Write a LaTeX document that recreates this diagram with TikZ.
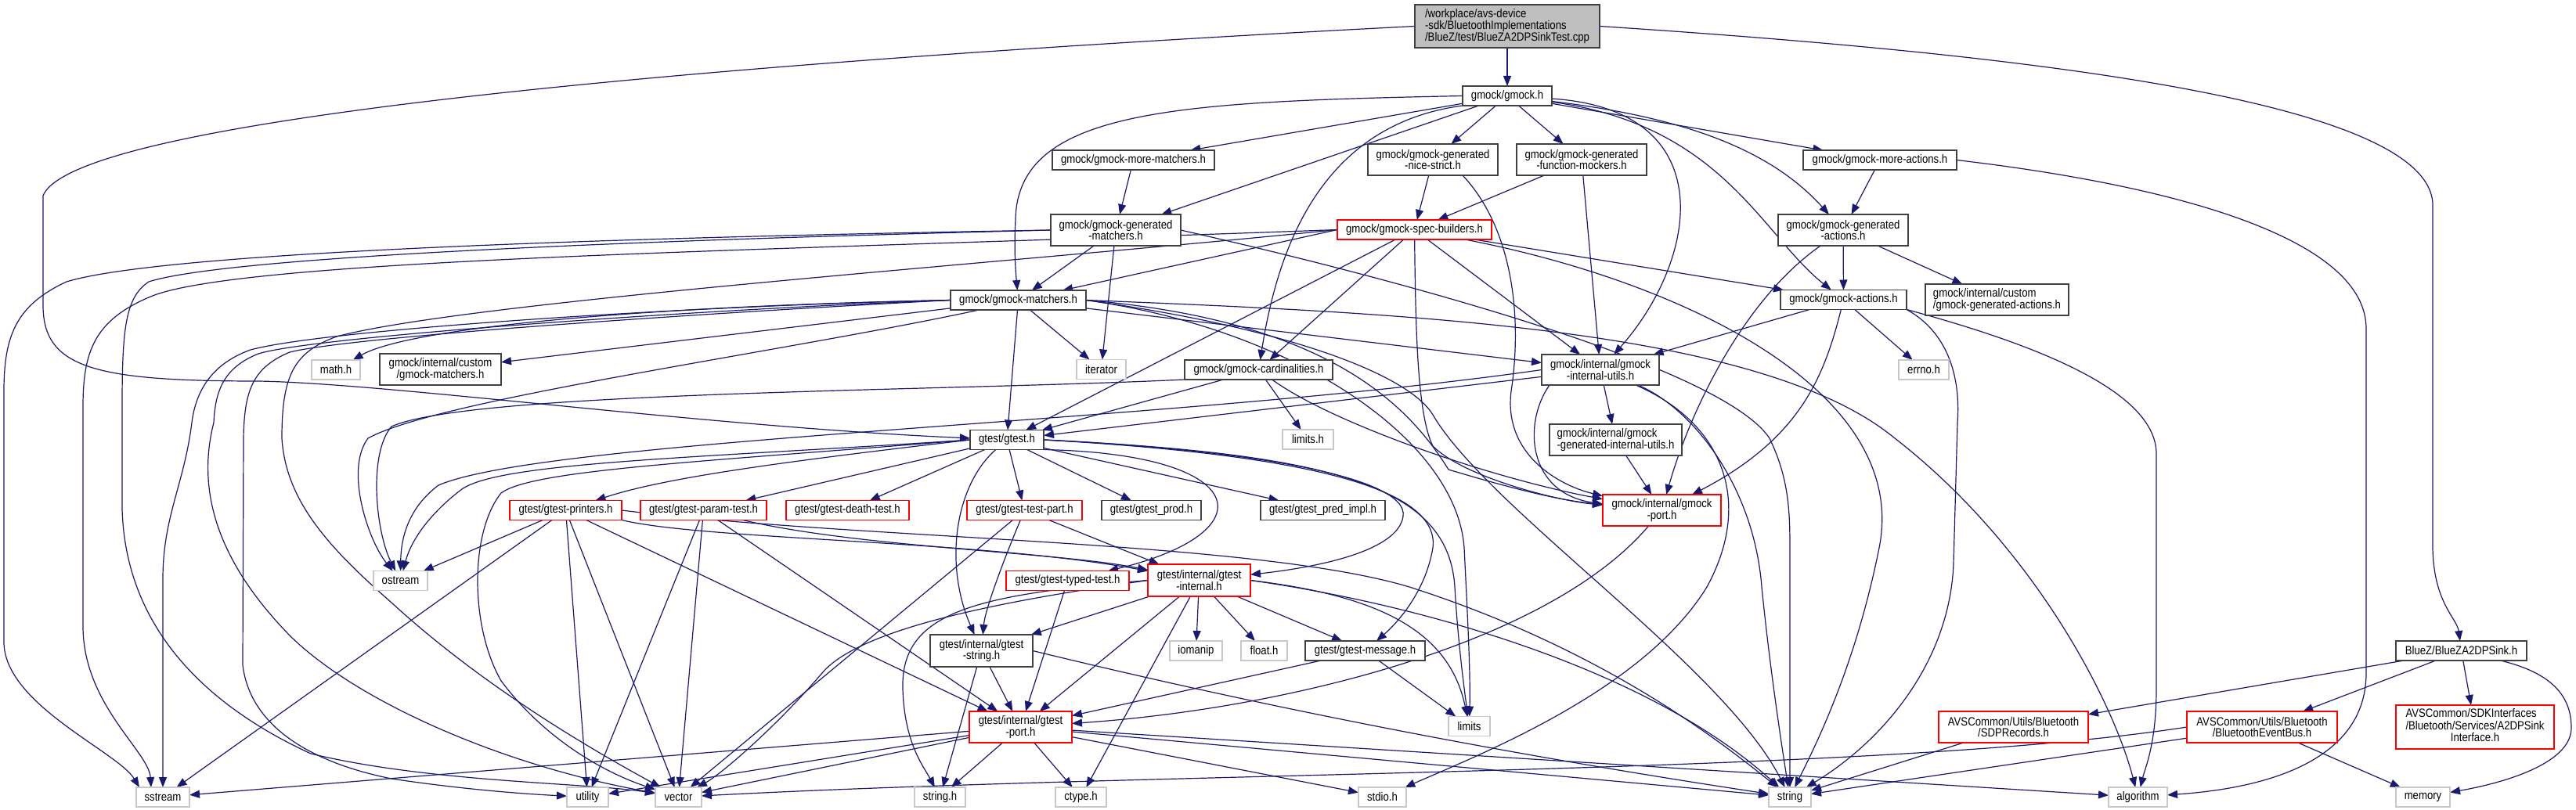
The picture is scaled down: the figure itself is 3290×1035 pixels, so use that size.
\documentclass[tikz,border=0pt]{standalone}
\usepackage{fontspec}
\setmainfont{Liberation Sans}[FakeStretch=0.86]
\usetikzlibrary{arrows.meta}
\definecolor{edgec}{RGB}{25,25,112}
\definecolor{boxgray}{RGB}{191,191,191}
\definecolor{lgray}{RGB}{200,200,200}
\newcommand\fsz{\fontsize{15.3}{14.7}\selectfont}
\pgfdeclarelayer{bg}
\pgfsetlayers{bg,main}
\tikzset{
  e/.style={draw=edgec, line width=1.2pt, -{Triangle[length=13pt,width=10pt]}},
  bx/.style={draw=black!75, line width=1.6pt, fill=white, inner sep=0pt, outer sep=0pt, minimum height=25pt, font=\fsz, text=black},
  rbx/.style={bx, draw=red},
  gbx/.style={bx, draw=lgray},
}
\begin{document}
\begin{tikzpicture}[x=1pt,y=-1pt]
\useasboundingbox (0,0) rectangle (3290,1035);
% ---------- nodes ----------
\node[bx, fill=boxgray, minimum width=236pt, minimum height=55pt, align=left] (root) at (1925,33.5) {/workplace/avs-device\\-sdk/BluetoothImplementations\\/BlueZ/test/BlueZA2DPSinkTest.cpp};
\node[bx, minimum width=114pt] (gmock) at (1925,122.5) {gmock/gmock.h};
\node[bx, minimum width=166pt, minimum height=40pt, align=center] (nicestrict) at (1830,204) {gmock/gmock-generated\\-nice-strict.h};
\node[bx, minimum width=166pt, minimum height=40pt, align=center] (funcmock) at (2020,204) {gmock/gmock-generated\\-function-mockers.h};
\node[rbx, minimum width=197pt] (specb) at (1806.5,293.5) {gmock/gmock-spec-builders.h};
\node[bx, minimum width=196pt] (moreact) at (2401,204.5) {gmock/gmock-more-actions.h};
\node[bx, minimum width=166pt, minimum height=40pt, align=center] (genact) at (2354,294) {gmock/gmock-generated\\-actions.h};
\node[bx, minimum width=161pt] (actions) at (2354.5,383) {gmock/gmock-actions.h};
\node[bx, minimum width=150pt, minimum height=39pt, align=center] (iutils) at (2044,472.5) {gmock/internal/gmock\\-internal-utils.h};
\node[bx, minimum width=189pt] (cardin) at (1607.5,472.5) {gmock/gmock-cardinalities.h};
\node[gbx, minimum width=64pt] (errno) at (2457,472.5) {errno.h};
\node[bx, minimum width=183pt, minimum height=40pt, align=left] (customact) at (2550.5,383) {gmock/internal/custom\\/gmock-generated-actions.h};
\node[bx, minimum width=207pt] (moremat) at (1447.5,204.5) {gmock/gmock-more-matchers.h};
\node[bx, minimum width=166pt, minimum height=40pt, align=center] (genmat) at (1425,294) {gmock/gmock-generated\\-matchers.h};
\node[bx, minimum width=173pt] (matchers) at (1300.5,383.5) {gmock/gmock-matchers.h};
\node[gbx, minimum width=63pt] (iterator) at (1406.5,472) {iterator};
\node[gbx, minimum width=62pt] (math) at (429,472.5) {math.h};
\node[bx, minimum width=155pt, minimum height=40pt, align=center] (custommat) at (562.5,472) {gmock/internal/custom\\/gmock-matchers.h};
\node[rbx, minimum width=143pt] (printers) at (722.5,652) {gtest/gtest-printers.h};
\node[gbx, minimum width=69pt] (ostream) at (511.5,742) {ostream};
\node[gbx, minimum width=68pt] (sstream) at (208,1018.5) {sstream};
\node[gbx, minimum width=53pt] (utility) at (750.5,1018.5) {utility};
\node[bx, minimum width=94pt] (gtest) at (1286,562) {gtest/gtest.h};
\node[rbx, minimum width=161pt] (paramtest) at (898.5,652) {gtest/gtest-param-test.h};
\node[rbx, minimum width=157pt] (deathtest) at (1082.5,652) {gtest/gtest-death-test.h};
\node[rbx, minimum width=147pt] (testpart) at (1308.5,652) {gtest/gtest-test-part.h};
\node[bx, minimum width=127pt] (prod) at (1470.5,652) {gtest/gtest\_prod.h};
\node[bx, minimum width=159pt] (predimpl) at (1689.5,652) {gtest/gtest\_pred\_impl.h};
\node[rbx, minimum width=157pt] (typedtest) at (1363.5,742) {gtest/gtest-typed-test.h};
\node[rbx, minimum width=131pt, minimum height=41pt, align=center] (ginternal) at (1531.5,741.5) {gtest/internal/gtest\\-internal.h};
\node[bx, minimum width=131pt, minimum height=41pt, align=center] (gstring) at (1253.5,831.5) {gtest/internal/gtest\\-string.h};
\node[gbx, minimum width=67pt] (iomanip) at (1527.5,831.5) {iomanip};
\node[gbx, minimum width=59pt] (floath) at (1614.5,831.5) {float.h};
\node[rbx, minimum width=131pt, minimum height=40pt, align=center] (gport) at (1303.5,929) {gtest/internal/gtest\\-port.h};
\node[gbx, minimum width=59pt] (vector) at (866.5,1018.5) {vector};
\node[gbx, minimum width=65pt] (stringh) at (1200.5,1018.5) {string.h};
\node[gbx, minimum width=65pt] (ctype) at (1380.5,1018.5) {ctype.h};
\node[gbx, minimum width=65pt] (limitsh) at (1670.5,561.5) {limits.h};
\node[bx, minimum width=169pt, minimum height=40pt, align=left] (geniutils) at (2063.5,562) {gmock/internal/gmock\\-generated-internal-utils.h};
\node[rbx, minimum width=151pt, minimum height=40pt, align=center] (mport) at (2122.5,652) {gmock/internal/gmock\\-port.h};
\node[bx, minimum width=153pt] (message) at (1743.5,831.5) {gtest/gtest-message.h};
\node[gbx, minimum width=53pt] (limits) at (1876.5,928) {limits};
\node[gbx, minimum width=61pt] (stdio) at (1765.5,1018.5) {stdio.h};
\node[gbx, minimum width=54pt] (string) at (2286,1018.5) {string};
\node[bx, minimum width=167pt] (bluez) at (3143.5,831.5) {BlueZ/BlueZA2DPSink.h};
\node[rbx, minimum width=191pt, minimum height=40pt, align=center] (sdp) at (2571.5,929) {AVSCommon/Utils/Bluetooth\\/SDPRecords.h};
\node[rbx, minimum width=192pt, minimum height=40pt, align=center] (eventbus) at (2889,929) {AVSCommon/Utils/Bluetooth\\/BluetoothEventBus.h};
\node[rbx, minimum width=202pt, minimum height=56pt] (a2dp) at (3161,929) {\begin{tabular}{@{}l@{}}AVSCommon/SDKInterfaces\\/Bluetooth/Services/A2DPSink\\\multicolumn{1}{@{}c@{}}{Interface.h}\end{tabular}};
\node[gbx, minimum width=75pt] (algorithm) at (2730.5,1018.5) {algorithm};
\node[gbx, minimum width=69pt] (memory) at (3094.5,1018.5) {memory};
% ---------- edges ----------
\begin{pgfonlayer}{bg}
% root
\draw[e] (root) -- (gmock);
\draw[e] (root.west) .. controls (1100,70) and (100,140) .. (55,250) -- (55,390) .. controls (55,470) and (120,487) .. (330,487) .. controls (500,490) and (900,545) .. (gtest);
\draw[e] (root.east) .. controls (2600,70) and (3100,130) .. (3107,260) -- (3107,700) .. controls (3108,770) and (3138,790) .. (bluez);
% gmock
\draw[e] (gmock) -- (nicestrict);
\draw[e] (gmock) -- (funcmock);
\draw[e] (gmock) -- (moremat);
\draw[e] (gmock) -- (genmat);
\draw[e] (gmock.west) .. controls (1500,130) and (1300,140) .. (1297,280) .. controls (1295,320) and (1297,345) .. (matchers);
\draw[e] (gmock.south west) .. controls (1680,160) and (1630,330) .. (cardin);
\draw[e] (gmock) .. controls (2200,140) and (2170,330) .. (iutils);
\draw[e] (gmock) .. controls (2200,160) and (2250,300) .. (actions);
\draw[e] (gmock) .. controls (2150,150) and (2260,190) .. (genact);
\draw[e] (gmock) -- (moreact);
% nice-strict, function-mockers
\draw[e] (nicestrict) -- (specb);
\draw[e] ([xshift=38pt]nicestrict.south) .. controls (1930,290) and (1945,400) .. (1930,500) .. controls (1920,580) and (1990,620) .. (mport);
\draw[e] (funcmock) -- (specb);
\draw[e] (funcmock) -- (iutils);
% spec-builders
\draw[e] (specb) -- (gtest);
\draw[e] (specb) -- (cardin);
\draw[e] (specb.west) -- (matchers);
\draw[e] (specb) -- (iutils);
\draw[e] (specb) -- (actions);
\draw[e] (specb) .. controls (1808,420) and (1810,530) .. (1830,570) .. controls (1870,610) and (1990,640) .. (mport);
\draw[e] (specb) .. controls (2150,360) and (2440,500) .. (2400,700) .. controls (2370,850) and (2320,950) .. (string);
\draw[e] (specb.west) .. controls (1000,320) and (300,330) .. (190,380) .. controls (120,410) and (106,450) .. (106,520) -- (106,800) .. controls (106,900) and (190,960) .. ([xshift=-15pt]sstream.north);
\draw[e] (specb.west) .. controls (1300,335) and (600,385) .. (430,430) .. controls (375,450) and (360,480) .. (360,560) .. controls (365,640) and (420,700) .. (500,770) .. controls (620,880) and (760,960) .. (vector);
% generated-matchers
\draw[e] (genmat) -- (matchers);
\draw[e] (genmat) -- (iterator);
\draw[e] (genmat.west) .. controls (700,305) and (200,325) .. (85,360) .. controls (20,390) and (5,430) .. (5,500) -- (5,820) .. controls (5,900) and (150,960) .. ([xshift=-30pt]sstream.north);
\draw[e] (genmat.west) .. controls (900,305) and (300,325) .. (190,360) .. controls (160,380) and (156,420) .. (156,520) -- (156,650) .. controls (160,800) and (260,900) .. (397,963) .. controls (550,1000) and (750,1000) .. (vector);
\draw[e] (genmat.east) .. controls (1800,360) and (2200,470) .. (2260,560) .. controls (2284,610) and (2286,650) .. (2286,700) -- (string);
% more-matchers
\draw[e] (moremat) -- (genmat);
% matchers
\draw[e] (matchers.west) .. controls (800,392) and (520,420) .. (math);
\draw[e] (matchers) -- (custommat);
\draw[e] (matchers) -- (iterator);
\draw[e] (matchers) -- (gtest);
\draw[e] (matchers) -- (iutils);
\draw[e] (matchers.east) .. controls (1700,410) and (1800,520) .. (1850,600) .. controls (1950,630) and (2000,640) .. (mport);
\draw[e] (matchers.east) .. controls (1650,420) and (1860,560) .. (1870,700) .. controls (1875,800) and (1878,860) .. (limits);
\draw[e] ([xshift=-50pt]matchers.south) .. controls (1000,450) and (560,510) .. (470,560) .. controls (440,600) and (470,690) .. (ostream);
\draw[e] (matchers.west) .. controls (900,390) and (420,420) .. (320,447) .. controls (270,465) and (250,500) .. (245,540) .. controls (235,620) and (208,660) .. (208,740) -- (sstream);
\draw[e] (matchers.west) .. controls (900,395) and (400,430) .. (330,452) .. controls (285,470) and (275,500) .. (273,540) .. controls (250,630) and (280,720) .. (371,813) .. controls (460,900) and (650,980) .. (vector);
\draw[e] (matchers.west) .. controls (900,400) and (450,430) .. (370,450) .. controls (322,470) and (312,500) .. (311,560) -- (310,850) .. controls (320,930) and (400,975) .. (500,995) .. controls (600,1010) and (680,1015) .. (utility);
\draw[e] (matchers.east) .. controls (1650,420) and (1800,480) .. (1830,530) .. controls (1900,650) and (2200,850) .. (string);
\draw[e] (matchers.east) .. controls (1800,400) and (2250,420) .. (2420,560) .. controls (2600,700) and (2700,900) .. (algorithm);
% cardinalities
\draw[e] (cardin) -- (limitsh);
\draw[e] (cardin) -- (gtest);
\draw[e] (cardin.south west) .. controls (1200,500) and (600,500) .. (500,545) .. controls (470,580) and (480,680) .. (ostream);
\draw[e] (cardin) .. controls (1700,540) and (1900,610) .. (mport);
% internal-utils
\draw[e] (iutils) -- (geniutils);
\draw[e] ([xshift=-65pt]iutils.south) .. controls (1945,540) and (1950,630) .. ([yshift=8pt]mport.west);
\draw[e] (iutils) -- (gtest);
\draw[e] (iutils.west) .. controls (1500,540) and (700,560) .. (560,620) .. controls (520,650) and (512,690) .. (ostream);
\draw[e] (iutils) .. controls (2200,540) and (2240,640) .. (2180,750) .. controls (2100,880) and (1900,960) .. (stdio);
\draw[e] (iutils) .. controls (2160,520) and (2240,620) .. (2250,750) .. controls (2260,850) and (2275,950) .. (string);
% generated-internal-utils
\draw[e] (geniutils) -- (mport);
% gmock-port
\draw[e] (mport) .. controls (1980,820) and (1650,905) .. (gport);
% actions
\draw[e] (actions) -- (iutils);
\draw[e] (actions) .. controls (2330,480) and (2300,560) .. (mport);
\draw[e] (actions) -- (errno);
\draw[e] (actions.south east) .. controls (2600,440) and (2754,500) .. (2754,580) -- (2754,880) .. controls (2754,950) and (2740,980) .. (algorithm);
\draw[e] (actions.south east) .. controls (2480,420) and (2505,470) .. (2500,540) -- (2495,720) .. controls (2490,850) and (2400,950) .. (string);
% generated-actions
\draw[e] (genact) -- (actions);
\draw[e] (genact) -- (customact);
\draw[e] (genact) .. controls (2230,380) and (2160,520) .. (mport);
% more-actions
\draw[e] (moreact) -- (genact);
\draw[e] (moreact.east) .. controls (2800,240) and (3022,310) .. (3022,420) -- (3022,860) .. controls (3022,990) and (2850,1010) .. (algorithm);
% gtest.h
\draw[e] (gtest.west) .. controls (1000,590) and (850,610) .. (printers);
\draw[e] (gtest) -- (paramtest);
\draw[e] (gtest) -- (deathtest);
\draw[e] (gtest) -- (testpart);
\draw[e] (gtest) -- (prod);
\draw[e] (gtest) -- (predimpl);
\draw[e] (gtest.south east) .. controls (1600,580) and (1620,680) .. (typedtest);
\draw[e] (gtest) .. controls (1220,620) and (1205,720) .. (gstring);
\draw[e] (gtest.east) .. controls (1600,575) and (1800,610) .. (1792,660) .. controls (1785,705) and (1680,725) .. (ginternal);
\draw[e] (gtest.east) .. controls (1650,580) and (1840,620) .. (1830,700) .. controls (1820,760) and (1780,800) .. (message);
\draw[e] (gtest.east) .. controls (1700,580) and (1850,620) .. (1858,750) .. controls (1862,820) and (1870,880) .. (limits);
\draw[e] (gtest.west) .. controls (900,590) and (680,600) .. (640,630) .. controls (600,680) and (600,800) .. (640,870) .. controls (700,950) and (780,990) .. (vector);
\draw[e] (gtest.west) .. controls (900,585) and (640,590) .. (590,625) .. controls (550,655) and (525,690) .. (ostream);
% printers
\draw[e] (printers) -- (ostream);
\draw[e] (printers) -- (sstream);
\draw[e] (printers) -- (utility);
\draw[e] (printers) -- (vector);
\draw[e] (printers) -- (gport);
\draw[e] (printers.south east) .. controls (900,690) and (1250,690) .. (ginternal);
\draw[e] (printers.east) .. controls (1100,690) and (1600,690) .. (1800,750) .. controls (2050,830) and (2200,950) .. (string);
% param-test
\draw[e] (paramtest) -- (utility);
\draw[e] (paramtest) -- (vector);
\draw[e] (paramtest) -- (gport);
\draw[e] ([xshift=50pt]paramtest.south) .. controls (1100,700) and (1350,705) .. (ginternal);
% test-part
\draw[e] (testpart) -- (vector);
\draw[e] (testpart) .. controls (1280,720) and (1258,780) .. (gstring);
\draw[e] (testpart) -- (ginternal);
% typed-test
\draw[e] (typedtest) -- (gport);
% gtest-internal
\draw[e] (ginternal) -- (iomanip);
\draw[e] (ginternal) -- (floath);
\draw[e] (ginternal) -- (gstring);
\draw[e] (ginternal) -- (gport);
\draw[e] (ginternal) -- (ctype);
\draw[e] (ginternal.west) .. controls (1250,760) and (1150,780) .. (1153,880) .. controls (1155,950) and (1180,980) .. (stringh);
\draw[e] (ginternal.west) .. controls (1300,765) and (1100,800) .. (1050,860) .. controls (990,930) and (920,990) .. (vector);
\draw[e] (ginternal) -- (message);
\draw[e] (ginternal.east) .. controls (1750,760) and (1850,800) .. (limits);
\draw[e] (ginternal.east) .. controls (1800,770) and (2100,850) .. (string);
% gtest-string
\draw[e] (gstring) -- (stringh);
\draw[e] (gstring) -- (gport);
\draw[e] (gstring.east) .. controls (1600,900) and (1900,960) .. (string);
% message
\draw[e] (message) -- (limits);
\draw[e] (message) -- (gport);
% gtest-port
\draw[e] (gport) -- (ctype);
\draw[e] (gport) -- (stringh);
\draw[e] (gport) -- (vector);
\draw[e] (gport) -- (utility);
\draw[e] (gport) -- (sstream);
\draw[e] (gport) -- (stdio);
\draw[e] (gport) -- (string);
\draw[e] (gport) -- (algorithm);
% BlueZ
\draw[e] (bluez) -- (sdp);
\draw[e] (bluez) -- (eventbus);
\draw[e] (bluez) -- (a2dp);
\draw[e] ([xshift=50pt]bluez.south) .. controls (3260,860) and (3284,890) .. (3284,930) .. controls (3284,975) and (3200,1000) .. (memory);
\draw[e] (sdp) -- (string);
\draw[e] (eventbus) -- (memory);
\draw[e] (eventbus) -- (string);
\draw[e] (eventbus.west) .. controls (2400,990) and (1500,985) .. (vector);
\end{pgfonlayer}
\end{tikzpicture}
\end{document}
